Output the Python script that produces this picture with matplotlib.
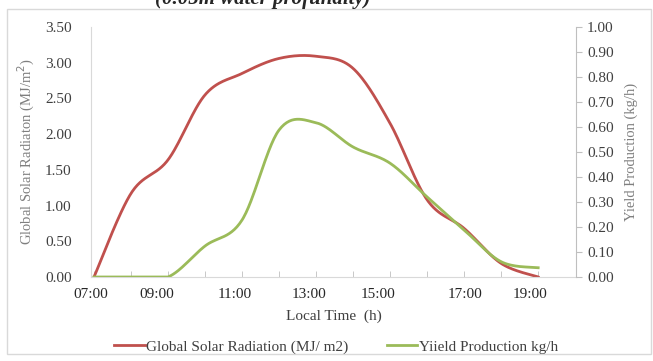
import numpy as np
import matplotlib
matplotlib.use("Agg")
import matplotlib.pyplot as plt
from matplotlib.lines import Line2D
from matplotlib.patches import Rectangle

plt.rcParams['font.family'] = ['Liberation Serif', 'DejaVu Serif']

hours = [7, 8, 9, 10, 11, 12, 13, 14, 15, 16, 17, 18, 19]
radiation = [0.00, 1.17, 1.64, 2.55, 2.85, 3.06, 3.09, 2.92, 2.15, 1.08, 0.68, 0.19, 0.00]
yield_prod = [0.00, 0.00, 0.00, 0.124, 0.228, 0.588, 0.617, 0.52, 0.455, 0.32, 0.188, 0.061, 0.037]

# x label positions as they sit in the original (not exactly on ticks)
label_pos = [6.92, 8.69, 10.81, 12.82, 14.67, 17.03, 18.77]
label_txt = ["07:00", "09:00", "11:00", "13:00", "15:00", "17:00", "19:00"]

red = "#C0504D"
green = "#9BBB59"


def smooth(x, y, n=30):
    # catmull-rom style curve through the points, like excel's smoothed line
    x = np.asarray(x, float)
    y = np.asarray(y, float)
    px = np.concatenate([[x[0]], x, [x[-1]]])
    py = np.concatenate([[y[0]], y, [y[-1]]])
    xs, ys = [], []
    t = np.linspace(0, 1, n)
    for i in range(1, len(px) - 2):
        for p, out in ((px, xs), (py, ys)):
            p0, p1, p2, p3 = p[i - 1], p[i], p[i + 1], p[i + 2]
            m1 = (p2 - p0) / 2
            m2 = (p3 - p1) / 2
            h00 = 2 * t**3 - 3 * t**2 + 1
            h10 = t**3 - 2 * t**2 + t
            h01 = -2 * t**3 + 3 * t**2
            h11 = t**3 - t**2
            out.extend(h00 * p1 + h10 * m1 + h01 * p2 + h11 * m2)
    return np.array(xs), np.array(ys)


fig = plt.figure(figsize=(6.53, 3.61), dpi=100)
ax = fig.add_axes([0.1394, 0.2327, 0.882 - 0.1394, 0.9252 - 0.2327])
ax2 = ax.twinx()

sx, sy = smooth(hours, radiation)
ax.plot(sx, np.clip(sy, 0, None), color=red, lw=2)
gx, gy = smooth(hours, yield_prod)
ax2.plot(gx, np.clip(gy, 0, None), color=green, lw=2)

ax.set_xlim(7, 20.02)
ax.set_ylim(0, 3.5)
ax2.set_ylim(0, 1.0)

ax.set_yticks(np.arange(0, 3.51, 0.5))
ax.set_yticklabels([f"{v:.2f}" for v in np.arange(0, 3.51, 0.5)])
ax2.set_yticks(np.arange(0, 1.01, 0.1))
ax2.set_yticklabels([f"{v:.2f}" for v in np.arange(0, 1.01, 0.1)])

ax.set_xticks(hours, minor=True)
ax.set_xticks(label_pos)
ax.set_xticklabels(label_txt)
ax.tick_params(axis='x', which='major', length=0, pad=8, labelsize=11, labelcolor="#262626")
ax.tick_params(axis='x', which='minor', length=4, direction='in', color="#BFBFBF")
ax.tick_params(axis='y', length=0, pad=14, labelsize=11, labelcolor="#404040")
ax2.tick_params(axis='y', length=4, color="#BFBFBF", pad=4, labelsize=11, labelcolor="#404040")

for a in (ax, ax2):
    for s in a.spines.values():
        s.set_visible(False)
ax.spines['left'].set_visible(True)
ax.spines['left'].set_color("#D9D9D9")
ax.spines['bottom'].set_visible(True)
ax.spines['bottom'].set_color("#D9D9D9")
ax2.spines['right'].set_visible(True)
ax2.spines['right'].set_color("#BFBFBF")

ax.set_ylabel("Global Solar Radiaton (MJ/m$^2$)", color="#7F7F7F", fontsize=10.5, labelpad=6)
ax2.set_ylabel("Yield Production (kg/h)", color="#7F7F7F", fontsize=10.5, labelpad=8)
ax.set_xlabel("Local Time  (h)", color="#404040", fontsize=11, labelpad=6)

handles = [Line2D([], [], color=red, lw=2), Line2D([], [], color=green, lw=2)]
fig.legend(handles, ["Global Solar Radiation (MJ/ m2)", "Yiield Production kg/h"],
           loc='center', bbox_to_anchor=(336 / 653, 1 - 347 / 361), ncol=2,
           frameon=False, fontsize=11, handlelength=2.0, handletextpad=0.1,
           columnspacing=2.5, labelcolor="#404040")

fig.text(263 / 653, 1 - 4 / 361, "(0.05m water profundity)", ha='center', va='baseline',
         fontsize=15, fontweight='bold', fontstyle='italic', color="#262626")

fig.patches.append(Rectangle((7 / 653, 1 - 354 / 361), 644 / 653, 345 / 361,
                             transform=fig.transFigure, fill=False,
                             edgecolor="#D9D9D9", lw=1))

fig.savefig("out.png", dpi=100)
